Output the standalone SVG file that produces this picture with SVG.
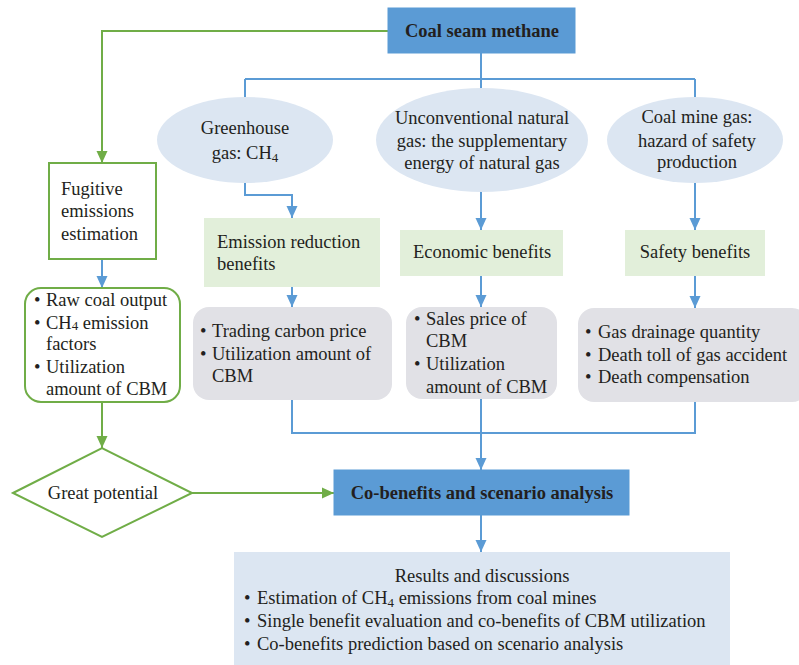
<svg xmlns="http://www.w3.org/2000/svg" width="799" height="665" viewBox="0 0 799 665" font-family="'Liberation Serif', 'DejaVu Serif', serif">
<style>
text{font-family:'Liberation Serif','DejaVu Serif',serif;font-size:18.5px;fill:#231f20}
.b{font-weight:bold}
.m{text-anchor:middle}
.sub{font-size:13px}
.bl{fill:none;stroke:#5b9bd5;stroke-width:2}
.gr{fill:none;stroke:#70ad47;stroke-width:2}
.hd{fill:#5b9bd5;stroke:#5b9bd5;stroke-width:1}
.el{fill:#dce6f2}
.gb{fill:#e2efda}
.gy{fill:#e1e1e6}
</style>
<defs>
<marker id="ab" markerUnits="userSpaceOnUse" markerWidth="12" markerHeight="12" refX="12" refY="6" orient="auto" viewBox="0 0 12 12"><path d="M0,0.5 L12,6 L0,11.5 z" fill="#5b9bd5"/></marker>
<marker id="ag" markerUnits="userSpaceOnUse" markerWidth="12" markerHeight="12" refX="12" refY="6" orient="auto" viewBox="0 0 12 12"><path d="M0,0.5 L12,6 L0,11.5 z" fill="#70ad47"/></marker>
</defs>
<g id="connectors">
<path class="gr" d="M388,31 H102 V163" marker-end="url(#ag)"/>
<path class="bl" d="M481,53 V79 M245,79 H695 M245,79 V100 M481,79 V92 M695,79 V100"/>
<path class="bl" d="M245,182 V195 H292 V218" marker-end="url(#ab)"/>
<path class="bl" d="M481,190 V230" marker-end="url(#ab)"/>
<path class="bl" d="M695,182 V230" marker-end="url(#ab)"/>
<path class="bl" d="M292,287 V307" marker-end="url(#ab)"/>
<path class="bl" d="M481,276 V307" marker-end="url(#ab)"/>
<path class="bl" d="M695,276 V308" marker-end="url(#ab)"/>
<path class="bl" d="M292,400 V433 H695 V402"/>
<path class="bl" d="M481,399 V470" marker-end="url(#ab)"/>
<path class="bl" d="M481,515 V552" marker-end="url(#ab)"/>
<path class="bl" d="M102,259 V288" marker-end="url(#ab)"/>
<path class="gr" d="M102,402 V448" marker-end="url(#ag)"/>
<path class="gr" d="M192,493 H334" marker-end="url(#ag)"/>
</g>
<g id="coal-seam-methane">
<rect class="hd" x="388" y="8" width="187" height="45"/>
<text class="b m" x="482" y="37">Coal seam methane</text>
</g>
<g id="greenhouse">
<ellipse class="el" cx="245" cy="140" rx="88" ry="43"/>
<text class="m" x="245" y="134">Greenhouse</text>
<text class="m" x="245" y="159">gas: CH<tspan class="sub" dy="3">4</tspan></text>
</g>
<g id="unconventional">
<ellipse class="el" cx="482" cy="140" rx="106" ry="52"/>
<text class="m" x="482" y="124">Unconventional natural</text>
<text class="m" x="482" y="147">gas: the supplementary</text>
<text class="m" x="482" y="169">energy of natural gas</text>
</g>
<g id="coal-mine-gas">
<ellipse class="el" cx="695" cy="140" rx="88" ry="43"/>
<text class="m" x="697" y="123">Coal mine gas:</text>
<text class="m" x="697" y="147">hazard of safety</text>
<text class="m" x="697" y="168">production</text>
</g>
<g id="emission-reduction">
<rect class="gb" x="204" y="218" width="176" height="69"/>
<text x="217" y="248">Emission reduction</text>
<text x="217" y="270">benefits</text>
</g>
<g id="economic">
<rect class="gb" x="400" y="230" width="163" height="46"/>
<text class="m" x="482" y="258">Economic benefits</text>
</g>
<g id="safety">
<rect class="gb" x="625" y="230" width="140" height="46"/>
<text class="m" x="695" y="258">Safety benefits</text>
</g>
<g id="emission-factors">
<rect class="gy" x="193" y="307" width="199" height="93" rx="16"/>
<text x="200" y="337">•</text><text x="212" y="337">Trading carbon price</text>
<text x="200" y="360">•</text><text x="212" y="360">Utilization amount of</text>
<text x="212" y="382">CBM</text>
</g>
<g id="economic-factors">
<rect class="gy" x="406" y="307" width="151" height="92" rx="16"/>
<text x="414" y="325">•</text><text x="426" y="325">Sales price of</text>
<text x="426" y="347">CBM</text>
<text x="414" y="370">•</text><text x="426" y="370">Utilization</text>
<text x="426" y="393">amount of CBM</text>
</g>
<g id="safety-factors">
<rect class="gy" x="578" y="308" width="230" height="94" rx="16"/>
<text x="585" y="338">•</text><text x="598" y="338">Gas drainage quantity</text>
<text x="585" y="361">•</text><text x="598" y="361">Death toll of gas accident</text>
<text x="585" y="383">•</text><text x="598" y="383">Death compensation</text>
</g>
<g id="fugitive">
<rect x="49" y="163" width="107" height="96" fill="#fff" stroke="#70ad47" stroke-width="2"/>
<text x="61" y="195">Fugitive</text>
<text x="61" y="217">emissions</text>
<text x="61" y="240">estimation</text>
</g>
<g id="inputs">
<rect x="25" y="288" width="155" height="114" rx="16" fill="#fff" stroke="#70ad47" stroke-width="2"/>
<text x="34" y="306">•</text><text x="46" y="306">Raw coal output</text>
<text x="34" y="329">•</text><text x="46" y="329">CH<tspan class="sub" dy="1">4</tspan><tspan dy="-1"> emission</tspan></text>
<text x="46" y="350">factors</text>
<text x="34" y="373">•</text><text x="46" y="373">Utilization</text>
<text x="46" y="395">amount of CBM</text>
</g>
<g id="great-potential">
<polygon points="13,493 102,448 192,493 102,537" fill="#fff" stroke="#70ad47" stroke-width="2"/>
<text class="m" x="103" y="499">Great potential</text>
</g>
<g id="co-benefits">
<rect class="hd" x="334" y="470" width="295" height="45"/>
<text class="b m" x="482" y="499">Co-benefits and scenario analysis</text>
</g>
<g id="results">
<rect x="234" y="552" width="496" height="113" fill="#dce6f2"/>
<text class="m" x="482" y="582">Results and discussions</text>
<text x="244" y="604">•</text><text x="257" y="604">Estimation of CH<tspan class="sub" dy="3">4</tspan><tspan dy="-3"> emissions from coal mines</tspan></text>
<text x="244" y="627">•</text><text x="257" y="627">Single benefit evaluation and co-benefits of CBM utilization</text>
<text x="244" y="650">•</text><text x="257" y="650">Co-benefits prediction based on scenario analysis</text>
</g>
</svg>
